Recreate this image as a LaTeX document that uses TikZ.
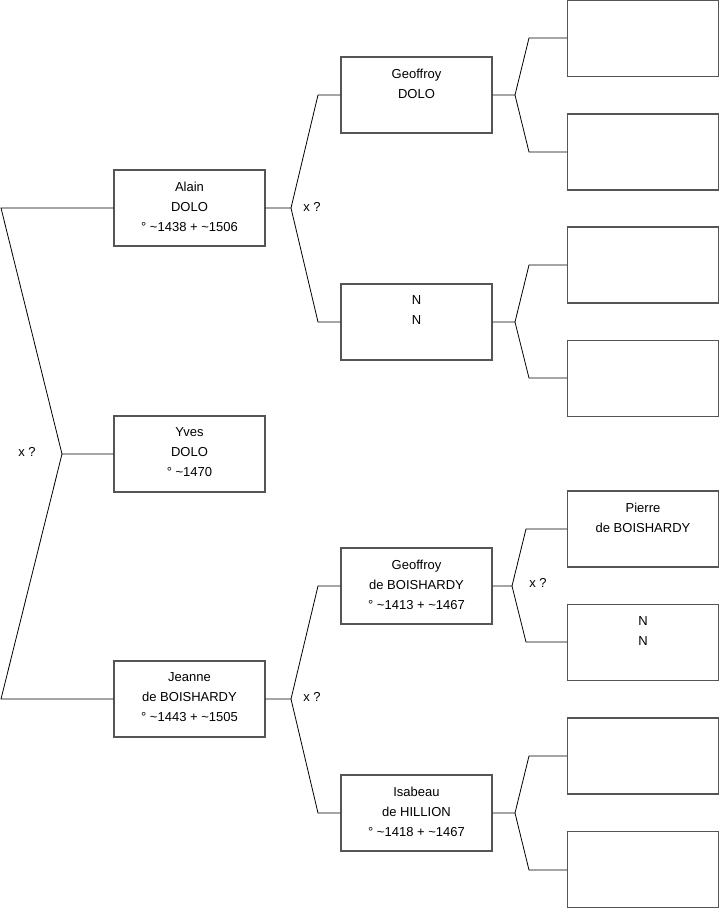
\documentclass[tikz,border=0pt]{standalone}
\usepackage{fontspec}
\setmainfont{Liberation Sans}
\usepackage{xcolor}
\usepackage{tikz}
\usetikzlibrary{
  positioning,
  calc,
}
\definecolor{boxgray}{HTML}{555555}

\begin{document}
\begin{tikzpicture}[x=1pt, y=-1pt,
  pbox/.style={draw=boxgray, line width=1.1pt, minimum width=151pt, minimum height=76pt, inner sep=0pt},
  ptext/.style={anchor=north, inner sep=0pt, align=center, yshift=-12pt, font=\fontsize{13}{20}\selectfont},
  link/.style={black, line width=0.8pt},
  xq/.style={font=\fontsize{13}{14}\selectfont, inner sep=0pt},
]
  \useasboundingbox (0,0) rectangle (719,908);

  % Yves and his parents
  \node[pbox] (yves)   at (189.5,454) {};
  \node[ptext] at (yves.north)   {Yves\\DOLO\\° \textasciitilde1470};
  \node[pbox] (alain)  at (189.5,208) {};
  \node[ptext] at (alain.north)  {Alain\\DOLO\\° \textasciitilde1438 + \textasciitilde1506};
  \node[pbox] (jeanne) at (189.5,699) {};
  \node[ptext] at (jeanne.north) {Jeanne\\de BOISHARDY\\° \textasciitilde1443 + \textasciitilde1505};

  % grandparents
  \node[pbox] (geodolo)  at (416.5,95) {};
  \node[ptext] at (geodolo.north)  {Geoffroy\\DOLO};
  \node[pbox] (nnA)      at (416.5,322) {};
  \node[ptext] at (nnA.north)      {N\\N};
  \node[pbox] (geobois)  at (416.5,586) {};
  \node[ptext] at (geobois.north)  {Geoffroy\\de BOISHARDY\\° \textasciitilde1413 + \textasciitilde1467};
  \node[pbox] (isabeau)  at (416.5,813) {};
  \node[ptext] at (isabeau.north)  {Isabeau\\de HILLION\\° \textasciitilde1418 + \textasciitilde1467};

  % great-grandparents
  \node[pbox] (gg1) at (643,38.5) {};
  \node[pbox] (gg2) at (643,152) {};
  \node[pbox] (gg3) at (643,265) {};
  \node[pbox] (gg4) at (643,378.5) {};
  \node[pbox] (gg5) at (643,529) {};
  \node[ptext] at (gg5.north) {Pierre\\de BOISHARDY};
  \node[pbox] (gg6) at (643,642.5) {};
  \node[ptext] at (gg6.north) {N\\N};
  \node[pbox] (gg7) at (643,756) {};
  \node[pbox] (gg8) at (643,869.5) {};

  % forks
  \coordinate (f0) at (62,454);
  \draw[link] (yves.west) -- (f0) -- (1,208) -- (alain.west);
  \draw[link] (f0) -- (1,699) -- (jeanne.west);
  \node[xq] (xq0) at (27,452) {x ?};

  \coordinate (f1) at (291,208);
  \draw[link] (alain.east) -- (f1) -- (318,95) -- (geodolo.west);
  \draw[link] (f1) -- (318,322) -- (nnA.west);
  \node[xq] (xq1) at (312,207) {x ?};

  \coordinate (f2) at (291,699);
  \draw[link] (jeanne.east) -- (f2) -- (318,586) -- (geobois.west);
  \draw[link] (f2) -- (318,813) -- (isabeau.west);
  \node[xq] (xq2) at (312,697) {x ?};

  \coordinate (f3) at (515,95);
  \draw[link] (geodolo.east) -- (f3) -- (529,38) -- (gg1.west |- 0,38);
  \draw[link] (f3) -- (529,152) -- (gg2.west);

  \coordinate (f4) at (515,322);
  \draw[link] (nnA.east) -- (f4) -- (529,265) -- (gg3.west);
  \draw[link] (f4) -- (529,378) -- (gg4.west |- 0,378);

  \coordinate (f5) at (512,586);
  \draw[link] (geobois.east) -- (f5) -- (526,529) -- (gg5.west);
  \draw[link] (f5) -- (526,642) -- (gg6.west |- 0,642);
  \node[xq] (xq3) at (538,583) {x ?};

  \coordinate (f6) at (515,813);
  \draw[link] (isabeau.east) -- (f6) -- (529,756) -- (gg7.west);
  \draw[link] (f6) -- (529,870) -- (gg8.west |- 0,870);
\end{tikzpicture}
\end{document}
